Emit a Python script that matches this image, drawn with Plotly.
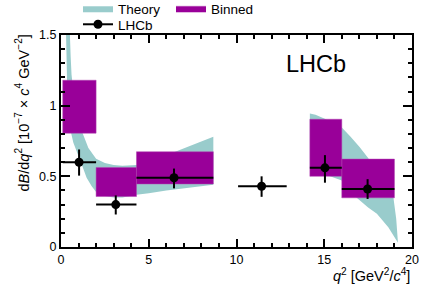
import plotly.graph_objects as go

# ---------------- data ----------------
# LHCb measurement
lhcb_x = [1.03, 3.12, 6.44, 11.43, 15.04, 17.47]
lhcb_y = [0.60, 0.30, 0.49, 0.43, 0.56, 0.41]
lhcb_xlo = [0.1, 2.0, 4.3, 10.09, 14.18, 16.0]
lhcb_xhi = [2.0, 4.3, 8.68, 12.86, 16.0, 19.0]
lhcb_err_up = [0.09, 0.065, 0.065, 0.07, 0.09, 0.07]
lhcb_err_dn = [0.095, 0.07, 0.075, 0.075, 0.105, 0.07]

# Binned theory prediction
bin_lo = [0.1, 2.0, 4.3, 14.18, 16.0]
bin_hi = [2.0, 4.3, 8.68, 16.0, 19.0]
bin_ylo = [0.805, 0.357, 0.446, 0.50, 0.348]
bin_yhi = [1.18, 0.563, 0.674, 0.904, 0.622]

# Theory band, low-q2 region
th1_up_x = [0.2, 0.35, 0.45, 0.51, 0.55, 0.6, 0.7, 0.8, 1.0, 1.24, 1.56, 2.0, 2.5, 3.0, 3.5, 4.3, 5.0, 6.0, 7.0, 8.0, 8.68]
th1_up_y = [2.6, 2.0, 1.7, 1.5, 1.35, 1.22, 1.08, 0.99, 0.88, 0.80, 0.70, 0.625, 0.595, 0.58, 0.575, 0.58, 0.60, 0.65, 0.70, 0.745, 0.78]
th1_lo_x = [0.2, 0.28, 0.35, 0.45, 0.55, 0.7, 0.85, 1.03, 1.25, 1.46, 1.75, 2.0, 2.5, 3.0, 3.5, 4.3, 5.0, 6.0, 7.0, 8.0, 8.68]
th1_lo_y = [2.0, 1.5, 1.15, 0.95, 0.82, 0.74, 0.68, 0.634, 0.56, 0.49, 0.43, 0.39, 0.36, 0.35, 0.35, 0.37, 0.38, 0.40, 0.415, 0.43, 0.44]

# Theory band, high-q2 region
th2_up_x = [14.18, 14.5, 15.0, 15.5, 16.0, 16.5, 17.0, 17.5, 18.0, 18.5, 18.94, 19.1, 19.2]
th2_up_y = [0.944, 0.935, 0.91, 0.88, 0.845, 0.78, 0.71, 0.63, 0.54, 0.45, 0.35, 0.2, 0.03]
th2_lo_x = [14.18, 15.0, 15.33, 16.0, 16.5, 16.85, 17.5, 18.0, 18.65, 19.0, 19.2]
th2_lo_y = [0.56, 0.52, 0.50, 0.47, 0.40, 0.348, 0.28, 0.235, 0.14, 0.07, 0.03]

# ---------------- styles ----------------
TEAL = "#99cccc"
PURPLE = "#990099"
FONT = "Liberation Sans, Arial, Helvetica, sans-serif"

fig = go.Figure()

# theory band polygons (upper forward, lower reversed), two separate regions
band_x = th1_up_x + th1_lo_x[::-1] + [None] + th2_up_x + th2_lo_x[::-1]
band_y = th1_up_y + th1_lo_y[::-1] + [None] + th2_up_y + th2_lo_y[::-1]
fig.add_trace(go.Scatter(
    x=band_x, y=band_y, mode="lines", fill="toself", fillcolor=TEAL,
    line=dict(width=0, color=TEAL), name="Theory", legend="legend",
    hoverinfo="skip"))

# binned boxes
bx, by = [], []
for x0, x1, y0, y1 in zip(bin_lo, bin_hi, bin_ylo, bin_yhi):
    bx += [x0, x1, x1, x0, x0, None]
    by += [y0, y0, y1, y1, y0, None]
fig.add_trace(go.Scatter(
    x=bx, y=by, mode="lines", fill="toself", fillcolor=PURPLE,
    line=dict(width=0.5, color="#b040b0"), name="Binned", legend="legend",
    hoverinfo="skip"))

# LHCb data
fig.add_trace(go.Scatter(
    x=lhcb_x, y=lhcb_y, mode="markers",
    marker=dict(color="black", size=9),
    error_x=dict(type="data", symmetric=False,
                 array=[h - c for h, c in zip(lhcb_xhi, lhcb_x)],
                 arrayminus=[c - l for l, c in zip(lhcb_xlo, lhcb_x)],
                 thickness=2, width=0, color="black"),
    error_y=dict(type="data", symmetric=False, array=lhcb_err_up,
                 arrayminus=lhcb_err_dn, thickness=2, width=0, color="black"),
    showlegend=False, name="LHCb"))
# legend entry for LHCb (line + marker)
fig.add_trace(go.Scatter(
    x=[None], y=[None], mode="lines+markers",
    marker=dict(color="black", size=9), line=dict(color="black", width=2),
    name="LHCb", legend="legend2"))

axis_common = dict(
    showline=True, linewidth=2, linecolor="black", mirror="ticks",
    ticks="inside", tickwidth=1.5, tickcolor="black",
    showgrid=False, zeroline=False,
    tickfont=dict(family=FONT, size=12.5, color="black"),
)
fig.update_xaxes(range=[0, 20], tickvals=[0, 5, 10, 15, 20], ticklen=8,
                 minor=dict(ticks="inside", dtick=1, ticklen=4, tickwidth=1.5,
                            tickcolor="black", showgrid=False),
                 **axis_common)
fig.update_yaxes(range=[0, 1.5], tickvals=[0, 0.5, 1, 1.5], ticklen=9,
                 minor=dict(ticks="inside", dtick=0.1, ticklen=4, tickwidth=1.5,
                            tickcolor="black", showgrid=False),
                 **axis_common)

W, H = 433, 294
ml, mr, mt, mb = 61, 21, 35, 47
pw, ph = W - ml - mr, H - mt - mb

def px(xpix):
    return (xpix - ml) / pw

def py(ypix):
    return (H - mb - ypix) / ph

fig.update_layout(
    width=W, height=H,
    margin=dict(l=ml, r=mr, t=mt, b=mb, autoexpand=False),
    paper_bgcolor="white", plot_bgcolor="white",
    font=dict(family=FONT, color="black", size=13.5),
    legend=dict(orientation="h", x=px(78), y=py(-7), xanchor="left", yanchor="top",
                font=dict(family=FONT, size=13.5, color="black"),
                bgcolor="rgba(0,0,0,0)", itemwidth=30, tracegroupgap=0,
                entrywidth=48, entrywidthmode="pixels",
                traceorder="normal"),
    legend2=dict(orientation="h", x=px(78), y=py(9), xanchor="left", yanchor="top",
                 font=dict(family=FONT, size=13.5, color="black"),
                 bgcolor="rgba(0,0,0,0)", itemwidth=30),
    annotations=[
        dict(text="LHCb", xref="paper", yref="paper", x=px(316), y=py(64),
             xanchor="center", yanchor="middle", showarrow=False,
             font=dict(family=FONT, size=23.5, color="black")),
        dict(text="<i>q</i><sup>2</sup> [GeV<sup>2</sup>/<i>c</i><sup>4</sup>]",
             xref="paper", yref="paper", x=px(412), y=py(275),
             xanchor="right", yanchor="middle", showarrow=False,
             font=dict(family=FONT, size=14.5, color="black")),
        dict(text="d<i>B</i>/d<i>q</i><sup>2</sup> [10<sup>−7</sup> × <i>c</i><sup>4</sup> GeV<sup>−2</sup>]",
             xref="paper", yref="paper", x=px(23), y=py(33),
             xanchor="center", yanchor="top", textangle=-90, showarrow=False,
             font=dict(family=FONT, size=14.5, color="black")),
    ],
)

fig.write_html("out.html", config={"displayModeBar": False},
               post_script="document.body.style.margin='0';document.body.style.padding='0';")
